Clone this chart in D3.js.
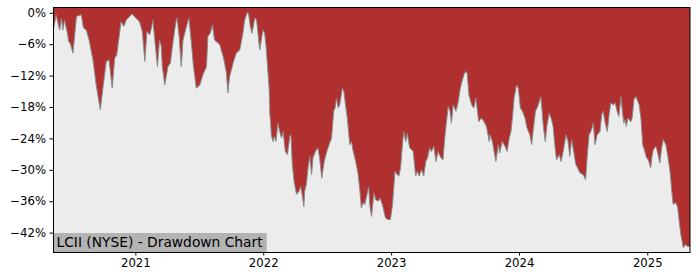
<!DOCTYPE html>
<meta charset="utf-8">
<script src="https://d3js.org/d3.v7.min.js"></script>
<style>
  body { margin: 0; background: #fff; }
  svg { display: block; }
</style>
<div id="my_dataviz"></div>
<script>

  // drawdown series (date, % below previous high)
  var dates = [
    "2020-05-11","2020-05-20","2020-05-30","2020-06-04","2020-06-08","2020-06-13","2020-06-21","2020-06-25","2020-06-29","2020-07-07",
    "2020-07-17","2020-07-31","2020-08-06","2020-08-14","2020-08-22","2020-09-02","2020-09-12","2020-09-23","2020-10-01","2020-10-10",
    "2020-10-18","2020-10-27","2020-11-03","2020-11-09","2020-11-17","2020-11-21","2020-11-29","2020-12-06","2020-12-16","2020-12-23",
    "2021-01-02","2021-01-08","2021-01-13","2021-01-21","2021-01-28","2021-02-03","2021-02-11","2021-02-16","2021-02-20","2021-02-25",
    "2021-03-05","2021-03-11","2021-03-16","2021-03-19","2021-03-26","2021-04-04","2021-04-11","2021-04-18","2021-04-26","2021-04-30",
    "2021-05-06","2021-05-12","2021-05-17","2021-05-27","2021-06-03","2021-06-10","2021-06-16","2021-06-24","2021-07-04","2021-07-13",
    "2021-07-23","2021-07-27","2021-08-03","2021-08-09","2021-08-15","2021-08-30","2021-09-10","2021-09-18","2021-09-22","2021-09-27",
    "2021-10-07","2021-10-16","2021-10-26","2021-11-04","2021-11-09","2021-11-16","2021-11-20","2021-11-25","2021-11-30","2021-12-08",
    "2021-12-13","2021-12-22","2021-12-31",
    "2022-01-05","2022-01-10","2022-01-18","2022-01-20","2022-01-22","2022-01-24","2022-01-29","2022-02-02","2022-02-06","2022-02-12",
    "2022-02-17","2022-02-22","2022-02-27","2022-03-05","2022-03-11","2022-03-18","2022-03-21","2022-03-25","2022-03-30","2022-04-06",
    "2022-04-13","2022-04-18","2022-04-22","2022-04-27","2022-04-29","2022-05-04","2022-05-09","2022-05-14","2022-05-19","2022-05-23",
    "2022-05-30","2022-06-06","2022-06-11","2022-06-17","2022-06-24","2022-06-30","2022-07-08","2022-07-15","2022-07-21","2022-07-25",
    "2022-07-29","2022-08-03","2022-08-07","2022-08-15","2022-08-19","2022-08-25","2022-08-29","2022-09-05","2022-09-10","2022-09-14",
    "2022-09-22","2022-09-29","2022-10-04","2022-10-08","2022-10-13","2022-10-18","2022-10-29","2022-11-01","2022-11-06","2022-11-13",
    "2022-11-18","2022-11-25","2022-11-30","2022-12-07","2022-12-16","2022-12-23","2022-12-30",
    "2023-01-05","2023-01-12","2023-01-18","2023-01-23","2023-01-28","2023-02-03","2023-02-06","2023-02-12","2023-02-16","2023-02-23",
    "2023-03-05","2023-03-12","2023-03-17","2023-03-22","2023-03-29","2023-04-04","2023-04-10","2023-04-15","2023-04-21","2023-04-26",
    "2023-05-03","2023-05-09","2023-05-15","2023-05-23","2023-05-29","2023-06-03","2023-06-08","2023-06-13","2023-06-18","2023-06-22",
    "2023-06-27","2023-07-05","2023-07-11","2023-07-16","2023-07-21","2023-07-28","2023-08-02","2023-08-06","2023-08-11","2023-08-19",
    "2023-08-25","2023-08-31","2023-09-08","2023-09-16","2023-09-23","2023-09-30","2023-10-08","2023-10-10","2023-10-17","2023-10-22",
    "2023-10-27","2023-11-03","2023-11-07","2023-11-14","2023-11-22","2023-11-28","2023-12-04","2023-12-09","2023-12-14","2023-12-18",
    "2023-12-25","2023-12-30",
    "2024-01-05","2024-01-11","2024-01-18","2024-01-24","2024-02-01","2024-02-06","2024-02-10","2024-02-17","2024-02-25","2024-03-03",
    "2024-03-07","2024-03-10","2024-03-16","2024-03-21","2024-03-27","2024-04-03","2024-04-08","2024-04-12","2024-04-17","2024-04-25",
    "2024-04-30","2024-05-06","2024-05-14","2024-05-20","2024-05-25","2024-05-30","2024-06-06","2024-06-11","2024-06-16","2024-06-23",
    "2024-07-02","2024-07-09","2024-07-14","2024-07-19","2024-07-24","2024-07-31","2024-08-05","2024-08-11","2024-08-19","2024-08-24",
    "2024-08-28","2024-09-04","2024-09-09","2024-09-14","2024-09-19","2024-09-26","2024-10-01","2024-10-07","2024-10-12","2024-10-18",
    "2024-10-22","2024-10-26","2024-10-30","2024-11-02","2024-11-07","2024-11-15","2024-11-19","2024-11-24","2024-11-29","2024-12-05",
    "2024-12-09","2024-12-14","2024-12-19","2024-12-25","2024-12-30",
    "2025-01-04","2025-01-11","2025-01-14","2025-01-18","2025-01-26","2025-02-01","2025-02-06","2025-02-11","2025-02-16","2025-02-23",
    "2025-02-28","2025-03-07","2025-03-12","2025-03-16","2025-03-24","2025-03-29","2025-04-02","2025-04-07","2025-04-14","2025-04-19",
    "2025-04-25","2025-05-03"
  ];

  var drawdown = [
    -3.6,-0.4,-3.3,-1.0,-3.3,-1.4,-3.9,-5.5,-5.8,-7.7,
    -0.7,-0.4,-2.9,-3.3,-5.2,-9.0,-14.1,-18.5,-14.1,-9.3,
    -9.0,-14.4,-8.7,-8.0,-3.9,-1.7,-2.6,-1.4,-0.7,-0.2,
    -1.0,-1.4,-1.7,-3.6,-9.3,-3.6,-4.2,-2.9,-1.4,-4.8,
    -10.3,-5.2,-6.4,-10.3,-13.8,-10.3,-9.6,-5.8,-2.0,-1.0,
    -4.5,-10.3,-5.2,-2.6,-1.0,-5.8,-10.3,-14.4,-13.8,-11.8,
    -10.3,-4.5,-3.9,-2.3,-5.2,-6.1,-8.7,-11.5,-15.3,-12.2,
    -9.6,-7.7,-7.1,-3.9,-1.4,0,-0.1,-2.6,-3.9,-1.0,
    -1.4,-7.1,-3.3,
    -3.9,-7.1,-14.7,-19.5,-20.8,-23.3,-24.6,-23.6,-24.6,-21.1,
    -22.7,-23.9,-22.7,-26.5,-27.1,-23.6,-23.3,-29.0,-32.2,-34.7,
    -34.1,-33.2,-34.7,-37.0,-34.1,-32.8,-29.6,-27.4,-30.9,-27.7,
    -26.5,-25.8,-27.7,-31.6,-28.4,-26.8,-25.2,-23.9,-18.8,-18.2,
    -16.3,-18.2,-17.6,-14.4,-15.0,-18.2,-20.1,-25.2,-24.6,-26.2,
    -28.4,-30.9,-34.1,-37.3,-36.3,-36.6,-33.2,-36.6,-38.9,-34.4,
    -35.7,-36.0,-35.4,-36.6,-39.2,-39.5,-39.5,
    -36.6,-30.3,-30.9,-31.2,-29.6,-24.6,-22.7,-24.6,-23.0,-25.8,
    -26.5,-31.2,-30.3,-31.2,-30.0,-31.2,-28.4,-27.7,-25.8,-26.5,
    -25.5,-28.4,-26.5,-27.7,-28.1,-23.9,-20.8,-17.9,-18.8,-21.1,
    -17.6,-18.8,-17.2,-15.0,-13.4,-11.8,-11.2,-11.5,-15.7,-17.6,
    -18.2,-16.3,-20.8,-20.1,-20.8,-21.7,-24.6,-23.3,-24.6,-26.5,
    -28.4,-25.2,-26.8,-24.6,-25.5,-26.5,-23.9,-22.7,-19.5,-16.3,
    -13.8,-14.4,
    -18.2,-18.8,-20.1,-22.0,-23.3,-25.2,-22.7,-18.8,-17.6,-16.0,
    -18.8,-21.4,-24.6,-21.4,-19.2,-20.4,-22.0,-25.2,-28.1,-27.1,
    -28.4,-26.5,-23.3,-24.6,-27.4,-24.2,-26.8,-29.0,-29.6,-30.6,
    -30.9,-31.9,-27.1,-23.3,-22.7,-21.1,-25.2,-23.3,-22.7,-19.5,
    -18.8,-21.4,-22.7,-19.5,-17.2,-17.6,-17.2,-18.8,-19.8,-16.0,
    -18.8,-21.1,-20.4,-21.7,-20.1,-20.8,-20.1,-16.6,-16.0,-16.9,
    -17.6,-20.1,-25.2,-26.5,-27.7,
    -28.1,-29.6,-27.7,-26.2,-25.5,-27.1,-28.7,-25.8,-24.2,-25.2,
    -27.1,-30.3,-34.1,-36.6,-36.3,-37.3,-39.8,-42.4,-44.9,-44.3,
    -44.6,-44.6
  ];

  var yTicks = [0, -6, -12, -18, -24, -30, -36, -42];
  var xTicks = ["2021-01-01", "2022-01-01", "2023-01-01", "2024-01-01", "2025-01-01"];
  var xTickLabels = ["2021", "2022", "2023", "2024", "2025"];
  var title = "LCII (NYSE) - Drawdown Chart";

  // set the dimensions and margins of the graph
  var margin = {top: 7, right: 10, bottom: 28, left: 53},
    width = 700 - margin.left - margin.right,
    height = 280 - margin.top - margin.bottom;

  var parseDate = d3.timeParse("%Y-%m-%d");
  var data = dates.map(function(d, i) { return {date: parseDate(d), dd: drawdown[i]}; });

  var svg = d3.select("#my_dataviz")
    .append("svg")
      .attr("width", 700)
      .attr("height", 280)
    .append("g")
      .attr("transform", "translate(" + margin.left + "," + margin.top + ")");

  var x = d3.scaleTime()
    .domain(d3.extent(data, function(d) { return d.date; }))
    .range([0, width]);

  var y = d3.scaleLinear()
    .domain([-45.7, 1.1])
    .range([height, 0]);

  svg.append("clipPath").attr("id", "clip")
    .append("rect").attr("width", width).attr("height", height);

  var plot = svg.append("g").attr("clip-path", "url(#clip)");

  // red above the curve, light grey below it
  plot.append("rect")
    .attr("width", width)
    .attr("height", height)
    .style("fill", "#b03030");

  plot.append("path")
    .datum(data)
    .attr("d", d3.area()
      .x(function(d) { return x(d.date); })
      .y0(height)
      .y1(function(d) { return y(d.dd); }))
    .style("fill", "#ececec");

  plot.append("path")
    .datum(data)
    .attr("d", d3.line()
      .x(function(d) { return x(d.date); })
      .y(function(d) { return y(d.dd); }))
    .style("fill", "none")
    .style("stroke", "#8a8a8a")
    .style("stroke-width", 1);

  // label box bottom left
  var label = svg.append("g");
  var labelText = label.append("text")
    .attr("x", 3.5)
    .attr("y", height - 5)
    .style("font-family", "DejaVu Sans")
    .style("font-size", "13.8px")
    .style("fill", "#000")
    .text(title);
  var bb = labelText.node().getBBox();
  label.insert("rect", "text")
    .attr("x", 0)
    .attr("y", height - 19)
    .attr("width", bb.width + 7)
    .attr("height", 19)
    .style("fill", "#b3b3b3");

  // frame
  svg.append("rect")
    .attr("x", 0.5).attr("y", 0.5)
    .attr("width", width - 0.5).attr("height", height)
    .style("fill", "none")
    .style("stroke", "#000")
    .style("stroke-width", 1);

  // axes
  var yAxis = svg.append("g")
    .call(d3.axisLeft(y)
      .tickValues(yTicks)
      .tickSize(3.5)
      .tickPadding(3.5)
      .tickFormat(function(d) { return (d < 0 ? "\u2212" : "") + Math.abs(d) + "%"; }));

  var xAxis = svg.append("g")
    .attr("transform", "translate(0," + height + ")")
    .call(d3.axisBottom(x)
      .tickValues(xTicks.map(parseDate))
      .tickSize(3.5)
      .tickPadding(3.5)
      .tickFormat(function(d, i) { return xTickLabels[i]; }));

  [yAxis, xAxis].forEach(function(a) {
    a.select(".domain").remove();
    a.attr("font-family", "DejaVu Sans").attr("font-size", "11.7px");
    a.selectAll(".tick line").style("stroke", "#000");
    a.selectAll(".tick text").style("fill", "#000");
  });

</script>
